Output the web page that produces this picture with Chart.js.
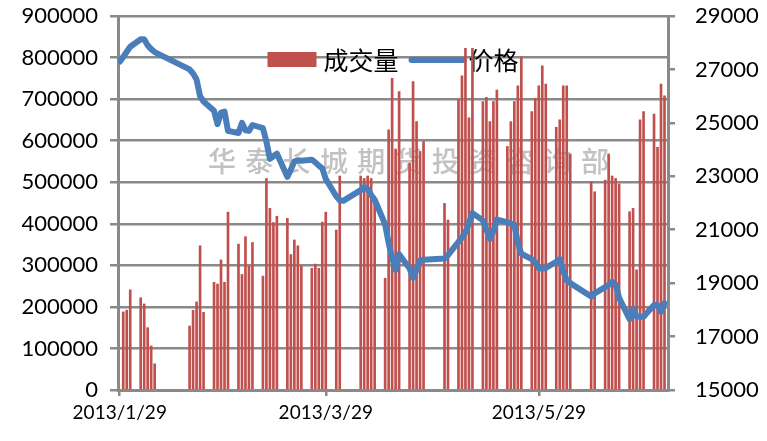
<!DOCTYPE html>
<html>
<head>
<meta charset="utf-8">
<script src="https://cdn.jsdelivr.net/npm/chart.js@4.4.0/dist/chart.umd.min.js"></script>
<style>
  html,body{margin:0;padding:0;background:#fff;}
  #wrap{width:767px;height:441px;}
</style>
</head>
<body>
<div id="wrap"><canvas id="volume-price-chart" width="767" height="441"></canvas></div>
<script>
/* ═══════════════════════════════════
   成交量 / 价格  (2013/1/29 - 2013/7/4)
═══════════════════════════════════ */

var dates = [
  '2013/1/29','2013/1/30','2013/1/31','2013/2/1','2013/2/4','2013/2/5','2013/2/6','2013/2/7','2013/2/8',
  '2013/2/18','2013/2/19','2013/2/20','2013/2/21','2013/2/22','2013/2/25','2013/2/26','2013/2/27','2013/2/28',
  '2013/3/1','2013/3/4','2013/3/5','2013/3/6','2013/3/7','2013/3/8','2013/3/11','2013/3/12','2013/3/13',
  '2013/3/14','2013/3/15','2013/3/18','2013/3/19','2013/3/20','2013/3/21','2013/3/22','2013/3/25','2013/3/26',
  '2013/3/27','2013/3/28','2013/3/29','2013/4/1','2013/4/2','2013/4/3','2013/4/8','2013/4/9','2013/4/10',
  '2013/4/11','2013/4/12','2013/4/15','2013/4/16','2013/4/17','2013/4/18','2013/4/19','2013/4/22','2013/4/23',
  '2013/4/24','2013/4/25','2013/4/26','2013/5/2','2013/5/3','2013/5/6','2013/5/7','2013/5/8','2013/5/9',
  '2013/5/10','2013/5/13','2013/5/14','2013/5/15','2013/5/16','2013/5/17','2013/5/20','2013/5/21','2013/5/22',
  '2013/5/23','2013/5/24','2013/5/27','2013/5/28','2013/5/29','2013/5/30','2013/5/31','2013/6/3','2013/6/4',
  '2013/6/5','2013/6/6','2013/6/7','2013/6/13','2013/6/14','2013/6/17','2013/6/18','2013/6/19','2013/6/20',
  '2013/6/21','2013/6/24','2013/6/25','2013/6/26','2013/6/27','2013/6/28','2013/7/1','2013/7/2','2013/7/3',
  '2013/7/4'
];

var volume = [
  null,188000,192000,241000,222000,207000,150000,106000,63000,
  154000,192000,212000,347000,187000,259000,255000,313000,259000,
  428000,351000,278000,369000,298000,355000,274000,509000,437000,
  403000,418000,413000,326000,361000,347000,298000,293000,303000,
  293000,404000,428000,385000,515000,null,515000,509000,515000,
  509000,465000,269000,626000,750000,580000,718000,546000,742000,
  646000,574000,598000,449000,409000,698000,756000,822000,655000,
  822000,694000,704000,646000,694000,722000,586000,646000,694000,
  732000,802000,670000,702000,732000,780000,736000,632000,650000,
  732000,732000,568000,501000,477000,505000,568000,515000,509000,
  496000,429000,437000,289000,650000,670000,664000,584000,736000,
  708000
];

var price = [
  27290,27470,27660,27850,28130,28130,27900,27760,27650,
  27000,26850,26620,26000,25800,25450,24950,25380,25420,
  24700,24620,25000,24720,24700,24920,24800,24300,23650,
  23750,23850,22980,23250,23550,23600,23580,23620,23520,
  23400,23300,22900,22250,22100,22080,22480,22600,22520,
  22300,22120,21200,20500,19950,19500,20080,19550,19200,
  19500,19850,19880,19920,20050,20550,20700,20900,21250,
  21620,21350,21000,20650,20950,21380,21280,21230,21180,
  20500,20100,19900,19780,19560,19550,19570,19800,19900,
  19450,19100,19000,18500,18620,18850,18930,19050,18950,
  18450,17650,18050,17750,17740,17740,18180,18180,17930,
  18250
];

var xTickDates = ['2013/1/29','2013/3/29','2013/5/29'];
var volTicks = [0,100000,200000,300000,400000,500000,600000,700000,800000,900000];
var priceTicks = [15000,17000,19000,21000,23000,25000,27000,29000];
var watermark = '华泰长城期货投资咨询部';

var GRID = '#8a8a8a';
var TICK_FONT = {family:'Lato', size:22};
var CJK = '"Noto Sans CJK SC"';

document.addEventListener('DOMContentLoaded', function(){
  buildChart();
});

function dayIndex(s){
  var p = s.split('/');
  var b = dates[0].split('/');
  return Math.round((Date.UTC(+p[0], p[1]-1, +p[2]) - Date.UTC(+b[0], b[1]-1, +b[2])) / 86400000);
}

function fixedTicks(list){
  return function(scale){
    scale.ticks = list.map(function(v){ return {value:v}; });
  };
}

// watermark + legend sit under the bars, like in the original
var backdropPlugin = {
  id:'backdrop',
  beforeDatasetsDraw:function(chart){
    var ctx = chart.ctx, area = chart.chartArea;
    var ds = chart.data.datasets;
    ctx.save();
    ctx.font = '500 28px ' + CJK;
    ctx.fillStyle = '#c2c2c2';
    ctx.textBaseline = 'middle';
    ctx.textAlign = 'left';
    for(var i=0;i<watermark.length;i++){
      ctx.fillText(watermark[i], 208 + i*37.3, 161);
    }

    ctx.font = '25px ' + CJK;
    ctx.fillStyle = '#000';
    var w1 = ctx.measureText(ds[0].label).width;
    var w2 = ctx.measureText(ds[1].label).width;
    var total = 49 + 7 + w1 + 10 + 58 + 2 + w2;
    var x = (area.left + area.right)/2 - total/2;
    var cy = 60;
    ctx.fillStyle = ds[0].backgroundColor;
    ctx.fillRect(x, cy - 8, 49, 15);
    x += 49 + 7;
    ctx.fillStyle = '#000';
    ctx.fillText(ds[0].label, x, cy);
    x += w1 + 10;
    ctx.strokeStyle = ds[1].borderColor;
    ctx.lineWidth = 6;
    ctx.lineCap = 'round';
    ctx.beginPath();
    ctx.moveTo(x + 3, cy);
    ctx.lineTo(x + 55, cy);
    ctx.stroke();
    x += 58 + 2;
    ctx.fillText(ds[1].label, x, cy);
    ctx.restore();
  }
};

function noPad(s){
  s.paddingTop = 0; s.paddingBottom = 0; s.paddingLeft = 0; s.paddingRight = 0;
}

function buildChart(){
  var ctx = document.getElementById('volume-price-chart');
  if(!ctx || ctx._ch) return;
  var last = dayIndex(dates[dates.length-1]);
  ctx._ch = new Chart(ctx, {
    type:'bar',
    data:{
      datasets:[{
        type:'bar',
        label:'成交量',
        data:dates.map(function(d,i){ return {x:dayIndex(d), y:volume[i]}; }),
        backgroundColor:'#C0504D',
        borderWidth:0,
        barThickness:2,
        yAxisID:'y',
        order:1
      },{
        type:'line',
        label:'价格',
        data:dates.map(function(d,i){ return {x:dayIndex(d), y:price[i]}; }),
        borderColor:'#4A7EBB',
        backgroundColor:'#4A7EBB',
        borderWidth:6,
        borderJoinStyle:'round',
        borderCapStyle:'round',
        pointRadius:0,
        tension:0,
        yAxisID:'y1',
        order:0
      }]
    },
    options:{
      responsive:false,
      animation:false,
      devicePixelRatio:1,
      layout:{padding:{top:16,left:0,right:0,bottom:0}},
      plugins:{
        tooltip:{enabled:false},
        legend:{display:false}
      },
      scales:{
        x:{
          type:'linear',
          min:-0.5,
          max:last+1,
          offset:false,
          afterBuildTicks:fixedTicks(xTickDates.map(dayIndex)),
          afterFit:function(s){ s.height = 51; noPad(s); },
          ticks:{
            callback:function(v,i){ return xTickDates[i]; },
            font:{family:'Lato', size:19}, color:'#000', padding:5, maxRotation:0, autoSkip:false
          },
          grid:{drawOnChartArea:false, offset:false, tickLength:6, color:GRID, lineWidth:2.5},
          border:{color:GRID, width:3}
        },
        y:{
          type:'linear',
          position:'left',
          min:0, max:900000,
          afterBuildTicks:fixedTicks(volTicks),
          afterFit:function(s){ s.width = 118; noPad(s); },
          ticks:{callback:function(v){ return String(v); }, font:TICK_FONT, color:'#000', padding:12},
          grid:{color:GRID, lineWidth:2.5, tickLength:8},
          border:{color:GRID, width:3}
        },
        y1:{
          type:'linear',
          position:'right',
          min:15000, max:29000,
          afterBuildTicks:fixedTicks(priceTicks),
          afterFit:function(s){ s.width = 99; noPad(s); },
          ticks:{callback:function(v){ return String(v); }, font:TICK_FONT, color:'#000', padding:20},
          grid:{drawOnChartArea:false, color:GRID, lineWidth:2.5, tickLength:7},
          border:{color:GRID, width:3}
        }
      }
    },
    plugins:[backdropPlugin]
  });
}
</script>
</body>
</html>
